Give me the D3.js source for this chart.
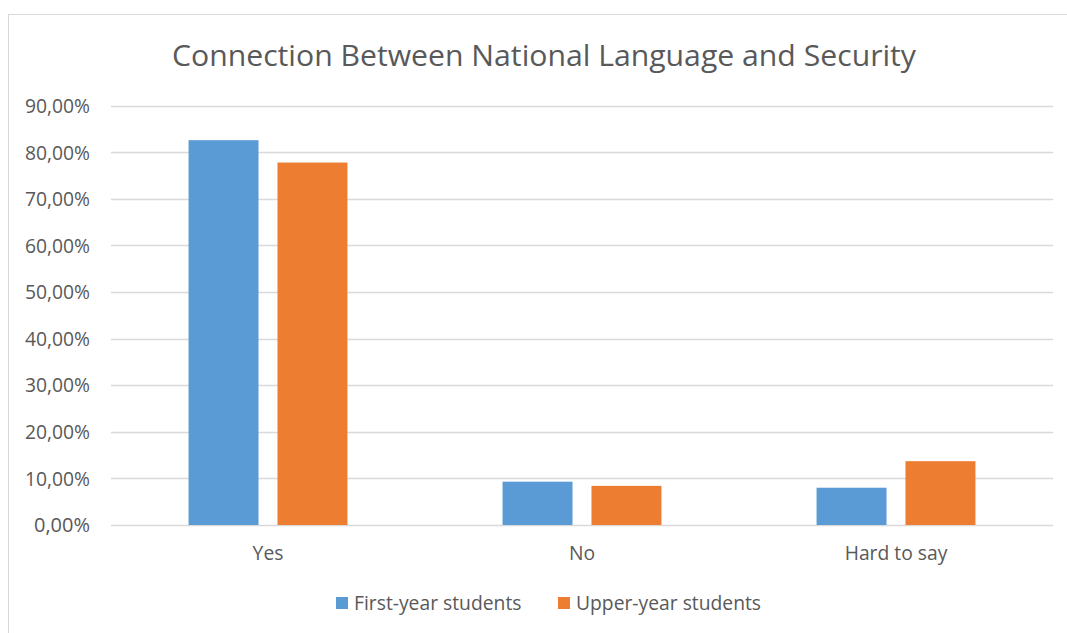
<!DOCTYPE html>
<html><head><meta charset="utf-8">
<script src="https://cdn.jsdelivr.net/npm/d3@7"></script>
<style>body{margin:0;background:#fff}svg{display:block}</style>
</head><body><svg id="c" width="1067" height="633"></svg>
<script>
const title = "Connection Between National Language and Security";
const categories = ["Yes", "No", "Hard to say"];
const seriesNames = ["First-year students", "Upper-year students"];
const firstYear = [0.826, 0.093, 0.080];
const upperYear = [0.778, 0.084, 0.137];
const yTicks = [0, 0.1, 0.2, 0.3, 0.4, 0.5, 0.6, 0.7, 0.8, 0.9];
const colors = ["#5B9BD5", "#ED7D31"];

const svg = d3.select("#c");
const font = "'Open Sans', 'Liberation Sans', Arial, sans-serif";
const txt = "#595959";
const fs = 19.3;

svg.append("rect").attr("x", 8.5).attr("y", 14.5).attr("width", 1070).attr("height", 640)
  .attr("fill", "#fff").attr("stroke", "#d9d9d9").attr("stroke-width", 1);

const L = 111, R = 1053, T = 105.7, B = 525;
const y = d3.scaleLinear().domain([0, 0.9]).range([B, T]);
const x0 = d3.scaleBand().domain(categories).range([L, R]).paddingInner(0.494).paddingOuter(0.247);
const x1 = d3.scaleBand().domain(seriesNames).range([0, x0.bandwidth()]).paddingInner(0.2135);

const fmt = v => d3.format(".2f")(v * 100).replace(".", ",") + "%";

// gridlines
svg.append("g").selectAll("line").data(yTicks).join("line")
  .attr("x1", L).attr("x2", R).attr("y1", d => Math.round(y(d)) + 0.5).attr("y2", d => Math.round(y(d)) + 0.5)
  .attr("stroke", "#d9d9d9").attr("stroke-width", 1.3);

// y axis labels
const yAxis = d3.axisLeft(y).tickValues(yTicks).tickFormat(fmt).tickSize(0).tickPadding(0);
const ga = svg.append("g").attr("transform", `translate(90,0)`).call(yAxis);
ga.select(".domain").remove();
ga.selectAll("text").attr("font-family", font).attr("font-size", fs).attr("fill", txt).attr("dy", "0.35em")
  .attr("textLength", 65).attr("lengthAdjust", "spacingAndGlyphs")
  .filter(d => d === 0).attr("textLength", 56);

// bars
const data = categories.map((c, i) => ({c, vals: [firstYear[i], upperYear[i]]}));
const groups = svg.append("g").selectAll("g").data(data).join("g")
  .attr("transform", d => `translate(${x0(d.c)},0)`);
groups.selectAll("rect").data(d => d.vals.map((v, j) => ({name: seriesNames[j], v, j}))).join("rect")
  .attr("x", d => x1(d.name)).attr("width", x1.bandwidth())
  .attr("y", d => y(d.v)).attr("height", d => B - y(d.v))
  .attr("fill", d => colors[d.j]);

// x labels
const xAxis = d3.axisBottom(x0).tickSize(0).tickPadding(0);
const gx = svg.append("g").attr("transform", `translate(0,${B})`).call(xAxis);
gx.select(".domain").remove();
gx.selectAll("text").attr("font-family", font).attr("font-size", fs).attr("fill", txt).attr("dy", 0).attr("y", 35);

// title
svg.append("text").attr("x", 544).attr("y", 66).attr("text-anchor", "middle")
  .attr("font-family", font).attr("font-size", 29).attr("fill", txt).text(title)
  .attr("textLength", 744).attr("lengthAdjust", "spacingAndGlyphs");

// legend
const leg = svg.append("g");
const legX = [336, 558];
seriesNames.forEach((n, i) => {
  leg.append("rect").attr("x", legX[i]).attr("y", 597).attr("width", 12).attr("height", 12).attr("fill", colors[i]);
  leg.append("text").attr("x", legX[i] + 18).attr("y", 610).attr("font-family", font).attr("font-size", fs)
    .attr("fill", txt).text(n);
});
</script></body></html>
